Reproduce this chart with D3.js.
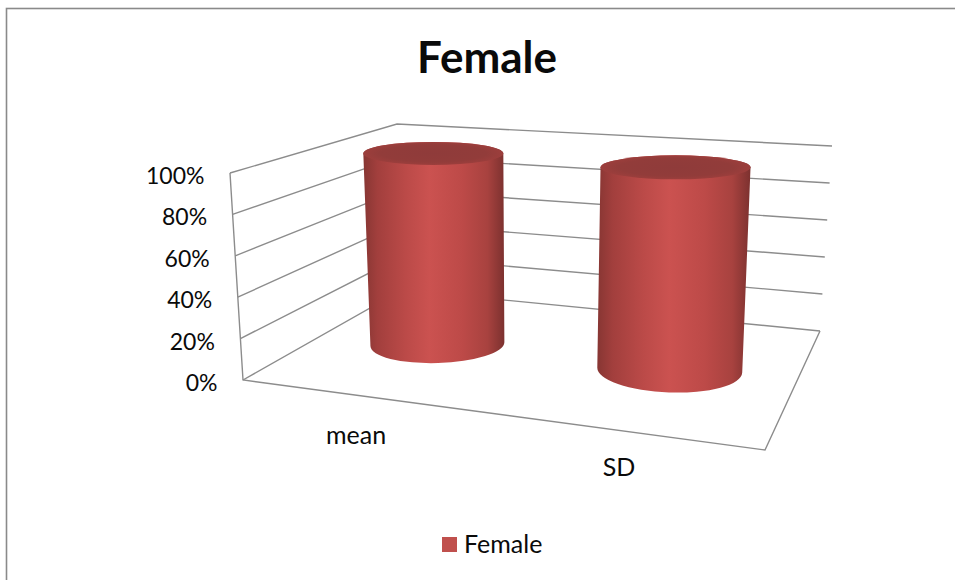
<!DOCTYPE html>
<html><head><meta charset="utf-8">
<script src="https://cdn.jsdelivr.net/npm/d3@7"></script>
<style>html,body{margin:0;padding:0;background:#fff}svg{display:block}text{font-family:Lato,"Open Sans",sans-serif;fill:#0a0a0a}</style>
</head><body><svg id="c" width="955" height="580"></svg>
<script>
const categories = ["mean", "SD"];
const seriesName = "Female";
const femaleShare = [100, 100];
const tickValues = [0, 20, 40, 60, 80, 100];
const tickLabels = ["0%", "20%", "40%", "60%", "80%", "100%"];

// Chart box corners: floor and ceiling, going front-left, front-right, back-right, back-left.
const floorCorners = [[243,380],[765,450],[820,331],[402,290]];
const ceilCorners  = [[230,173],[775,211],[832,146],[397,124]];
const catU = d3.scaleOrdinal().domain(categories).range([0.233, 0.73]);
const catV = d3.scaleOrdinal().domain(categories).range([0.54, 0.55]);
const h = d3.scaleLinear().domain([0, 100]).range([0, 1]);

function project(u, v, value) {
  const quad = cs => {
    const f = d3.interpolate(cs[0], cs[1])(u), b = d3.interpolate(cs[3], cs[2])(u);
    return d3.interpolate(f, b)(v);
  };
  return d3.interpolate(quad(floorCorners), quad(ceilCorners))(h(value));
}

const svg = d3.select("#c");
const defs = svg.append("defs");
const ink = "#8c8c8c";

// Frame runs off the right and bottom of the page
svg.append("rect").attr("x",6.5).attr("y",8.5).attr("width",1000).attr("height",600)
  .attr("fill","#fff").attr("stroke","#8a8a8a").attr("stroke-width",1.6);

svg.append("text").attr("x",487).attr("y",73).attr("text-anchor","middle")
  .attr("font-size",44).attr("font-weight",700).text(seriesName);

// Walls and floor
const line = d3.line();
tickValues.forEach(t => {
  svg.append("path").attr("fill","none").attr("stroke",ink).attr("stroke-width",1.4)
    .attr("d", line([project(0,0,t), project(0,1,t), project(1,1,t)]));
});
svg.append("path").attr("fill","none").attr("stroke",ink).attr("stroke-width",1.4)
  .attr("d", line([project(0,0,100), project(0,0,0), project(1,0,0), project(1,1,0)]));

// Value axis labels
tickValues.forEach((t,i) => {
  const p = project(0,0,t);
  svg.append("text").attr("x", p[0]-25.5).attr("y", p[1]+11).attr("text-anchor","end")
    .attr("font-size",23).text(tickLabels[i]);
});

// Category labels sit just below the front floor edge
const catLabelOffset = {mean:[-8.6,48], SD:[-5,45]};
categories.forEach(c => {
  const p = project(catU(c), 0, 0);
  svg.append("text").attr("x", p[0]+catLabelOffset[c][0]).attr("y", p[1]+catLabelOffset[c][1]).attr("text-anchor","middle")
    .attr("font-size",25).text(c);
});

// Shading across a cylinder side
const bodyGrad = defs.append("linearGradient").attr("id","side");
[[0,"#873633"],[0.1,"#a23f3d"],[0.3,"#bb4a48"],[0.47,"#cb5250"],[0.7,"#bd4a48"],[0.88,"#a8423f"],[1,"#7c312f"]]
  .forEach(s => bodyGrad.append("stop").attr("offset",s[0]).attr("stop-color",s[1]));
const capGrad = defs.append("radialGradient").attr("id","cap");
[[0,"#8f3b3a"],[0.75,"#923c3a"],[1,"#9c3e3c"]]
  .forEach(s => capGrad.append("stop").attr("offset",s[0]).attr("stop-color",s[1]));

// Cylinders: floor ellipses are rounder than the caps because of the viewing angle
const radii = {mean:{bx:67,by:19,tx:70,ty:11.5,tilt:-1.7}, SD:{bx:72.5,by:22.5,tx:75,ty:12,tilt:2}};
categories.forEach((c,i) => {
  const u = catU(c), v = catV(c), r = radii[c];
  const b = project(u,v,0), t = project(u,v,femaleShare[i]);
  const cos = Math.cos(r.tilt*Math.PI/180), sin = Math.sin(r.tilt*Math.PI/180);
  const bl = [b[0]-r.bx*cos, b[1]-r.bx*sin], br = [b[0]+r.bx*cos, b[1]+r.bx*sin];
  const body = `M${t[0]-r.tx},${t[1]} L${bl} A${r.bx},${r.by} ${r.tilt} 0 0 ${br} L${t[0]+r.tx},${t[1]} A${r.tx},${r.ty} 0 0 0 ${t[0]-r.tx},${t[1]} Z`;
  svg.append("path").attr("d",body).attr("fill","url(#side)");
  svg.append("ellipse").attr("cx",t[0]).attr("cy",t[1]).attr("rx",r.tx).attr("ry",r.ty).attr("fill","url(#cap)");
});

// Legend
svg.append("rect").attr("x",442).attr("y",537).attr("width",15).attr("height",15).attr("fill","#c0504d");
svg.append("text").attr("x",464).attr("y",553).attr("font-size",25).text(seriesName);
</script></body></html>
